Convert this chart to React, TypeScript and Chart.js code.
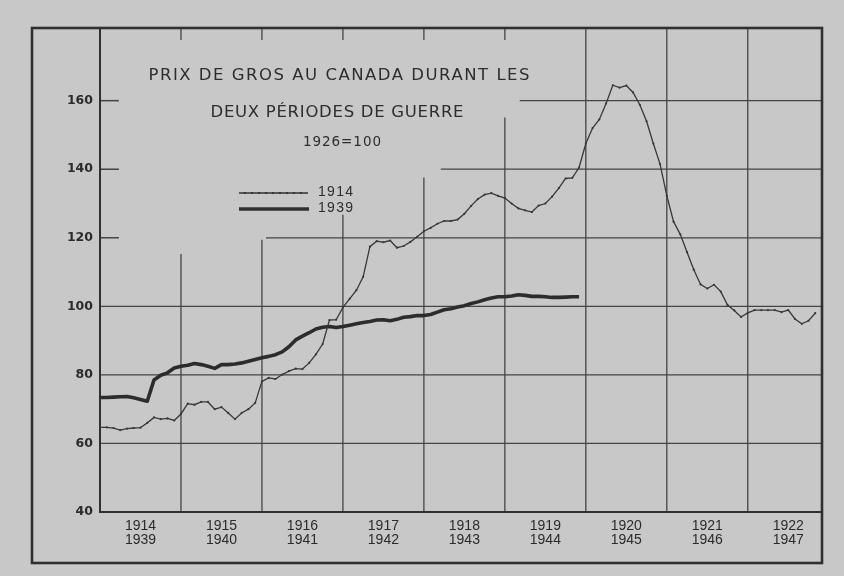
import React, { useEffect, useRef } from 'react';
import { Chart, registerables } from 'chart.js';

Chart.register(...registerables);

// ---------- data ----------
const years1914 = ['1914', '1915', '1916', '1917', '1918', '1919', '1920', '1921', '1922'];
const years1939 = ['1939', '1940', '1941', '1942', '1943', '1944', '1945', '1946', '1947'];
const yTickValues = [40, 60, 80, 100, 120, 140, 160];
const titleLines = ['PRIX DE GROS AU CANADA DURANT LES', 'DEUX PÉRIODES DE GUERRE', '1926=100'];
const seriesLabels = ['1914', '1939'];

// monthly index, Jan 1914 .. Nov 1922
const wpi1914 = [
  64.7, 64.7, 64.5, 63.9, 64.3, 64.5, 64.6, 66.0, 67.6, 67.1, 67.3, 66.7,
  68.6, 71.6, 71.3, 72.1, 72.1, 70.0, 70.6, 68.9, 67.1, 68.9, 70.0, 71.8,
  78.1, 79.1, 78.8, 80.1, 81.1, 81.8, 81.7, 83.5, 86.0, 89.0, 96.0, 96.1,
  99.7, 102.2, 104.7, 108.6, 117.4, 119.0, 118.7, 119.2, 117.1, 117.6, 118.8, 120.3,
  121.9, 122.9, 124.1, 124.9, 124.9, 125.3, 127.0, 129.3, 131.3, 132.6, 133.0, 132.2,
  131.6, 130.0, 128.6, 128.0, 127.5, 129.4, 130.0, 132.0, 134.5, 137.3, 137.5, 140.5,
  147.5, 152.0, 154.5, 159.2, 164.5, 163.8, 164.4, 162.4, 158.8, 154.0, 147.5, 141.5,
  132.3, 124.7, 121.0, 115.8, 110.7, 106.4, 105.2, 106.3, 104.3, 100.4, 98.8, 96.9,
  98.1, 98.9, 98.9, 98.9, 98.9, 98.3, 98.9, 96.3, 94.9, 95.8, 98.0,
];

// monthly index, Jan 1939 .. Dec 1944
const wpi1939 = [
  73.4, 73.4, 73.5, 73.6, 73.7, 73.3, 72.8, 72.3, 78.5, 79.9, 80.6, 82.0,
  82.5, 82.8, 83.3, 83.0, 82.5, 81.9, 83.0, 83.0, 83.2, 83.5, 84.0, 84.5,
  85.0, 85.4, 85.9, 86.7, 88.2, 90.2, 91.3, 92.3, 93.4, 93.9, 94.1, 93.8,
  94.1, 94.5, 94.9, 95.3, 95.6, 96.0, 96.1, 95.8, 96.2, 96.8, 97.0, 97.3,
  97.3, 97.6, 98.3, 99.0, 99.3, 99.8, 100.2, 100.8, 101.3, 101.9, 102.4, 102.8,
  102.8, 103.0, 103.4, 103.2, 102.9, 102.9, 102.8, 102.6, 102.6, 102.7, 102.8, 102.8,
];

// ---------- styles ----------
const BG = '#c8c8c8';
const INK = '#303030';
const GRID = '#444444';

export default function App() {
  const ref = useRef<HTMLCanvasElement>(null);

  useEffect(() => {
    const canvas = ref.current;
    if (!canvas) return;

    const paperPlugin = {
      id: 'paper',
      beforeDraw(chart: any) {
        const { ctx, width, height } = chart;
        ctx.save();
        ctx.fillStyle = BG;
        ctx.fillRect(0, 0, width, height);
        ctx.restore();
      },
      beforeDatasetsDraw(chart: any) {
        const { ctx, chartArea: a, scales } = chart;
        const x = scales.x;
        const y = scales.y;
        const seg = (x1: number, y1: number, x2: number, y2: number, w: number) => {
          ctx.lineWidth = w;
          ctx.beginPath();
          ctx.moveTo(x1, y1);
          ctx.lineTo(x2, y2);
          ctx.stroke();
        };
        ctx.save();
        ctx.strokeStyle = GRID;
        ctx.lineCap = 'butt';
        // horizontal grid lines (some interrupted by the title block)
        const hLines = [
          { v: 60, from: 0 },
          { v: 80, from: 0 },
          { v: 100, from: 0 },
          { v: 120, from: 24.6 },
          { v: 140, from: 50.5 },
          { v: 160, from: 62.2 },
        ];
        hLines.forEach((h) => {
          const py = y.getPixelForValue(h.v);
          seg(x.getPixelForValue(h.from), py, a.right, py, 1.3);
          if (h.from > 0) seg(a.left, py, x.getPixelForValue(2.8), py, 1.5);
        });
        // vertical grid lines (year boundaries)
        const vLines = [
          { m: 12, from: 115.3 },
          { m: 24, from: 119.4 },
          { m: 36, from: 126.7 },
          { m: 48, from: 137.6 },
          { m: 60, from: 155.1 },
          { m: 72, from: null },
          { m: 84, from: null },
          { m: 96, from: null },
        ];
        vLines.forEach((v) => {
          const px = x.getPixelForValue(v.m);
          const top = v.from === null ? a.top : y.getPixelForValue(v.from);
          seg(px, top, px, a.bottom, 1.3);
          if (v.from !== null) seg(px, a.top, px, a.top + 12, 1.3);
        });
        // axes
        ctx.strokeStyle = INK;
        seg(a.left, a.top, a.left, a.bottom + 1, 2);
        seg(a.left, a.bottom, a.right, a.bottom, 2.2);
        // outer frame
        ctx.lineWidth = 2.6;
        ctx.strokeRect(32, a.top, a.right - 32, 563 - a.top);
        ctx.restore();
      },
      afterDatasetsDraw(chart: any) {
        const { ctx } = chart;
        const fitText = (text: string, cx: number, cy: number, width: number, font: string) => {
          ctx.font = font;
          ctx.letterSpacing = '0px';
          const w = ctx.measureText(text).width;
          const ls = (width - w) / Math.max(1, text.length - 1);
          ctx.letterSpacing = ls + 'px';
          ctx.textAlign = 'left';
          ctx.textBaseline = 'middle';
          ctx.fillText(text, cx - width / 2, cy);
          ctx.letterSpacing = '0px';
        };
        ctx.save();
        ctx.fillStyle = '#2e2e2e';
        fitText(titleLines[0], 339, 76, 381, '16.5px "DejaVu Sans"');
        fitText(titleLines[1], 337, 113, 253, '16.5px "DejaVu Sans"');
        fitText(titleLines[2], 342, 142.5, 78, '13.5px "DejaVu Sans"');

        // legend
        ctx.strokeStyle = INK;
        ctx.lineWidth = 1.3;
        ctx.beginPath();
        ctx.moveTo(239, 193);
        ctx.lineTo(308, 193);
        ctx.stroke();
        ctx.fillStyle = INK;
        for (let px = 245; px < 308; px += 7) {
          ctx.beginPath();
          ctx.arc(px, 193, 1.1, 0, Math.PI * 2);
          ctx.fill();
        }
        ctx.lineWidth = 3.6;
        ctx.beginPath();
        ctx.moveTo(239, 209);
        ctx.lineTo(309, 209);
        ctx.stroke();
        ctx.fillStyle = '#2e2e2e';
        fitText(seriesLabels[0], 335.5, 192, 35, '14px "Liberation Sans"');
        fitText(seriesLabels[1], 335.5, 208, 35, '14px "Liberation Sans"');
        ctx.restore();
      },
    };

    const chart = new Chart(canvas, {
      type: 'line',
      data: {
        datasets: [
          {
            label: seriesLabels[0],
            data: wpi1914.map((v, i) => ({ x: i, y: v })),
            borderColor: '#383838',
            borderWidth: 1.3,
            pointRadius: 1.1,
            pointBorderWidth: 0,
            pointBackgroundColor: '#383838',
            tension: 0,
          },
          {
            label: seriesLabels[1],
            data: wpi1939.map((v, i) => ({ x: i, y: v })),
            borderColor: '#2c2c2c',
            borderWidth: 3.6,
            pointRadius: 0,
            tension: 0,
            borderJoinStyle: 'round',
          },
        ],
      },
      options: {
        responsive: false,
        animation: false,
        layout: { padding: { left: 0, top: 28, right: 22, bottom: 0 } },
        plugins: {
          legend: { display: false },
          tooltip: { enabled: false },
          title: { display: false },
        },
        scales: {
          x: {
            type: 'linear',
            min: 0,
            max: 107,
            grid: { display: false, drawTicks: false },
            border: { display: false },
            afterBuildTicks: (s: any) => {
              s.ticks = years1914.map((_, i) => ({ value: 6 + 12 * i }));
            },
            afterFit: (s: any) => {
              s.height = 64;
            },
            ticks: {
              autoSkip: false,
              maxRotation: 0,
              padding: 7,
              color: '#2b2b2b',
              font: { family: '"Liberation Sans"', size: 14, lineHeight: '14px' },
              callback: (v: any) => {
                const i = Math.round((Number(v) - 6) / 12);
                return [years1914[i], years1939[i]];
              },
            },
          },
          y: {
            type: 'linear',
            min: 40,
            max: 181.2,
            grid: { display: false, drawTicks: false },
            border: { display: false },
            afterBuildTicks: (s: any) => {
              s.ticks = yTickValues.map((v) => ({ value: v }));
            },
            afterFit: (s: any) => {
              s.width = 100;
            },
            ticks: {
              padding: 7,
              color: '#2b2b2b',
              font: { family: '"DejaVu Sans"', size: 12.5, weight: 'bold' },
              callback: (v: any) => String(v),
            },
          },
        },
      } as any,
      plugins: [paperPlugin],
    });

    return () => chart.destroy();
  }, []);

  return (
    <div style={{ position: 'fixed', left: 0, top: 0, width: 844, height: 576, background: BG }}>
      <canvas ref={ref} width={844} height={576} style={{ display: 'block' }} />
    </div>
  );
}
